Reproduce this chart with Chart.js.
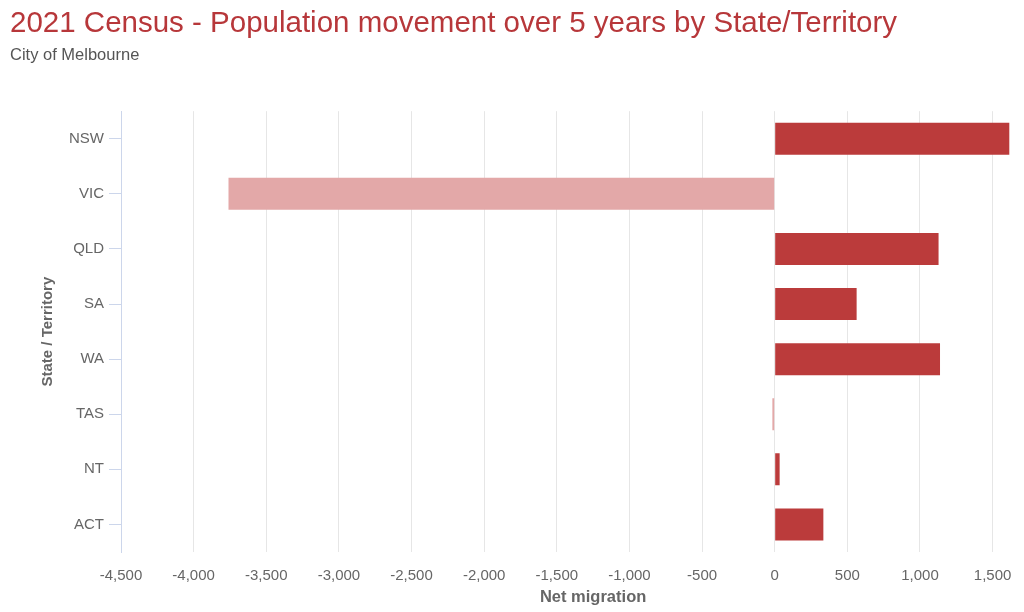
<!DOCTYPE html>
<html>
<head>
<meta charset="utf-8">
<script src="https://cdn.jsdelivr.net/npm/chart.js@4/dist/chart.umd.min.js"></script>
<style>
  html, body { margin: 0; padding: 0; background: #fff; overflow: hidden; }
  #wrap { width: 1099px; height: 612px; }
</style>
</head>
<body>
<div id="wrap"><canvas id="migration-canvas"></canvas></div>
<script>
// Data
const states = ["NSW", "VIC", "QLD", "SA", "WA", "TAS", "NT", "ACT"];
const netMigration = [1615, -3760, 1128, 564, 1138, -16, 34, 335];
const xTicks = [-4500, -4000, -3500, -3000, -2500, -2000, -1500, -1000, -500, 0, 500, 1000, 1500, 2000];

const gainColor = '#bb3b3b',
      lossColor = '#e3a8a8';

const canvas = document.getElementById("migration-canvas");

// the reference is cut off on the right, so the canvas is a bit wider than the window
let migrationChart = new Chart(canvas, {
    type: 'bar',
    data: {
        labels: states,
        datasets: [{
            label: 'Net migration',
            data: netMigration,
            borderWidth: 0,
            barPercentage: 0.58,
            categoryPercentage: 1,
            backgroundColor: netMigration.map(v => v < 0 ? lossColor : gainColor)
        }]
    },
    options: {
        indexAxis: 'y',
        responsive: true,
        maintainAspectRatio: false,
        animation: false,
        layout: {
            padding: { left: 10, right: 13, top: 0, bottom: 0 }
        },
        plugins: {
            legend: { display: false },
            tooltip: { enabled: false },
            title: {
                display: true,
                text: '2021 Census - Population movement over 5 years by State/Territory',
                align: 'start',
                color: '#b7373a',
                font: { family: 'Liberation Sans', size: 29.5, weight: 'normal', lineHeight: 1.2 },
                padding: { top: 6, bottom: 4 }
            },
            subtitle: {
                display: true,
                text: 'City of Melbourne',
                align: 'start',
                color: '#555555',
                font: { family: 'Liberation Sans', size: 16.5, lineHeight: 1.2 },
                padding: { top: 0, bottom: 46 }
            }
        },
        scales: {
            x: {
                min: -4500,
                max: 2000,
                afterBuildTicks: (scale) => {
                    scale.ticks = xTicks.map(v => ({ value: v }));
                },
                afterFit: (scale) => { scale.height = 60; },
                grid: {
                    color: '#e6e6e6',
                    drawTicks: false
                },
                border: { display: false },
                ticks: {
                    color: '#666666',
                    padding: 15,
                    maxRotation: 0,
                    autoSkip: false,
                    font: { family: 'Liberation Sans', size: 15 },
                    callback: (v) => v.toLocaleString('en-US')
                },
                title: {
                    display: true,
                    text: 'Net migration',
                    color: '#666666',
                    font: { family: 'Liberation Sans', size: 16.5, weight: 'bold' },
                    padding: { top: 0, bottom: 5 }
                }
            },
            y: {
                afterFit: (scale) => { scale.width = 111; },
                grid: {
                    offset: false,
                    drawOnChartArea: false,
                    drawTicks: true,
                    tickLength: 12,
                    tickColor: '#ccd6eb'
                },
                border: { display: true, color: '#ccd6eb' },
                ticks: {
                    color: '#666666',
                    padding: 5,
                    font: { family: 'Liberation Sans', size: 15 }
                },
                title: {
                    display: true,
                    text: 'State / Territory',
                    color: '#666666',
                    font: { family: 'Liberation Sans', size: 15, weight: 'bold' },
                    padding: { top: 29, bottom: 0 }
                }
            }
        }
    }
});
</script>
</body>
</html>
